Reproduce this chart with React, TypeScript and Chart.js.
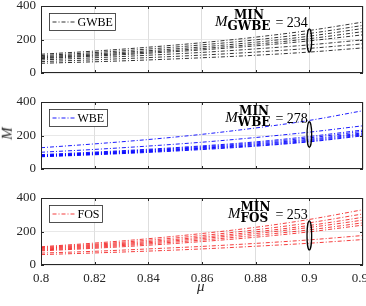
import React, { useEffect, useRef } from 'react';
import { Chart, registerables } from 'chart.js';

Chart.register(...registerables);

const MU = [0.8, 0.82, 0.84, 0.86, 0.88, 0.9, 0.92];

const GWBE_SERIES = [
  [112, 131, 154, 181, 214, 254, 304],
  [104, 122, 143, 168, 198, 236, 284],
  [97, 114, 133, 156, 184, 220, 266],
  [91, 107, 125, 146, 172, 205, 247],
  [86, 101, 118, 138, 162, 192, 228],
  [78, 91, 106, 123, 144, 168, 198],
  [68, 79, 92, 107, 125, 147, 174],
  [58, 67, 78, 91, 106, 125, 150],
];

const WBE_SERIES = [
  [127, 150, 176, 207, 245, 290, 348],
  [100, 117, 137, 160, 188, 220, 258],
  [86, 101, 118, 138, 162, 194, 233],
  [83, 97, 114, 133, 156, 186, 225],
  [80, 94, 110, 128, 150, 178, 216],
  [78, 91, 106, 124, 145, 172, 210],
  [75, 88, 103, 120, 140, 166, 204],
  [73, 85, 99, 116, 136, 162, 198],
];

const FOS_SERIES = [
  [109, 131, 157, 188, 225, 272, 330],
  [104, 124, 148, 176, 210, 252, 305],
  [99, 118, 140, 166, 198, 236, 285],
  [94, 112, 133, 158, 188, 224, 268],
  [89, 106, 126, 149, 177, 210, 252],
  [84, 100, 118, 140, 166, 198, 238],
  [71, 82, 96, 111, 129, 150, 176],
  [62, 72, 83, 96, 112, 130, 152],
];

const Y_TICKS = [0, 200, 400];
const X_MIN = 0.8;
const X_MAX = 0.92;
const X_STEP = 0.02;
const MARK_MU = 0.9;

const GWBE_MIN = 234;
const WBE_MIN = 278;
const FOS_MIN = 253;

const GWBE_RANGE = [125, 263];
const WBE_RANGE = [130, 282];
const FOS_RANGE = [90, 263];

type PanelProps = {
  series: number[][];
  color: string;
  label: string;
  minValue: number;
  range: number[];
  showX: boolean;
  top: number;
  height: number;
};

function Panel({ series, color, label, minValue, range, showX, top, height }: PanelProps) {
  const ref = useRef<HTMLCanvasElement | null>(null);
  useEffect(() => {
    if (!ref.current) return;
    const dash = [4, 2, 1, 2];
    const annot = {
      id: 'annot',
      afterDraw(chart: any) {
        const { ctx, chartArea: ca, scales } = chart;
        const xs = scales.x;
        const ys = scales.y;
        ctx.save();
        // box
        ctx.strokeStyle = '#262626';
        ctx.lineWidth = 1;
        ctx.setLineDash([]);
        ctx.strokeRect(Math.round(ca.left) + 0.5, Math.round(ca.top) + 0.5, Math.round(ca.width) - 1, Math.round(ca.height) - 1);
        // tick marks
        ctx.beginPath();
        for (let v = X_MIN + X_STEP; v < X_MAX - 1e-9; v += X_STEP) {
          const px = Math.round(xs.getPixelForValue(v)) + 0.5;
          ctx.moveTo(px, ca.bottom);
          ctx.lineTo(px, ca.bottom - 3);
          ctx.moveTo(px, ca.top);
          ctx.lineTo(px, ca.top + 3);
        }
        for (const t of Y_TICKS) {
          const py = Math.round(ys.getPixelForValue(t)) + 0.5;
          ctx.moveTo(ca.left, py);
          ctx.lineTo(ca.left + 3, py);
          ctx.moveTo(ca.right, py);
          ctx.lineTo(ca.right - 3, py);
        }
        ctx.stroke();
        // ellipse
        const ex = xs.getPixelForValue(MARK_MU);
        const y1 = ys.getPixelForValue(range[1]);
        const y0 = ys.getPixelForValue(range[0]);
        ctx.beginPath();
        ctx.lineWidth = 1.3;
        ctx.strokeStyle = '#000';
        ctx.ellipse(ex, (y0 + y1) / 2, 2.3, Math.abs(y0 - y1) / 2, 0, 0, Math.PI * 2);
        ctx.stroke();
        // annotation text
        const xr = ex - 1.5;
        const eq = '= ' + minValue;
        ctx.fillStyle = '#000';
        ctx.textBaseline = 'middle';
        ctx.textAlign = 'left';
        ctx.font = '14px "Liberation Serif"';
        const eqW = ctx.measureText(eq).width;
        ctx.font = 'bold 12px "DejaVu Serif"';
        const supW = ctx.measureText('MIN').width;
        const subW = ctx.measureText(label).width;
        const scW = Math.max(supW, subW);
        ctx.font = 'italic 15px "Liberation Serif"';
        const mW = ctx.measureText('M').width;
        const eqX = xr - eqW;
        const scX = eqX - 5 - scW;
        const mX = scX - mW;
        ctx.fillText('M', mX, ca.top + 16);
        ctx.font = 'bold 12px "DejaVu Serif"';
        ctx.fillText('MIN', scX + (scW - supW) / 2, ca.top + 9.5);
        ctx.fillText(label, scX, ca.top + 20.5);
        ctx.font = '14px "Liberation Serif"';
        ctx.fillText(eq, eqX, ca.top + 17);
        // legend
        ctx.font = '12px "Liberation Serif"';
        const tW = ctx.measureText(label).width;
        const bx = Math.round(ca.left) + 8.5;
        const by = Math.round(ca.top) + 7.5;
        const bw = Math.round(29 + tW + 2);
        const bh = 17;
        ctx.fillStyle = '#fff';
        ctx.fillRect(bx, by, bw, bh);
        ctx.strokeStyle = '#262626';
        ctx.lineWidth = 0.8;
        ctx.strokeRect(bx, by, bw, bh);
        ctx.beginPath();
        ctx.strokeStyle = color;
        ctx.lineWidth = 0.9;
        ctx.setLineDash(dash);
        ctx.moveTo(bx + 3, by + bh / 2);
        ctx.lineTo(bx + 26, by + bh / 2);
        ctx.stroke();
        ctx.setLineDash([]);
        ctx.fillStyle = '#000';
        ctx.fillText(label, bx + 28, by + bh / 2 + 0.5);
        ctx.restore();
      },
    };
    const chart = new Chart(ref.current, {
      type: 'line',
      data: {
        datasets: series.map((s) => ({
          data: s.map((v, i) => ({ x: MU[i], y: v })),
          borderColor: color,
          borderWidth: 0.9,
          borderDash: dash,
          pointRadius: 0,
          fill: false,
          cubicInterpolationMode: 'monotone' as const,
        })),
      },
      options: {
        animation: false,
        responsive: false,
        maintainAspectRatio: false,
        events: [],
        layout: { padding: { top: 6, right: 3, bottom: showX ? 19 : 7, left: 0 } },
        plugins: { legend: { display: false }, tooltip: { enabled: false } },
        scales: {
          x: {
            type: 'linear',
            min: X_MIN,
            max: X_MAX,
            border: { display: false },
            grid: { color: '#d6d6d6', lineWidth: 0.8, drawTicks: false },
            ticks: {
              display: showX,
              stepSize: X_STEP,
              padding: 6,
              color: '#262626',
              font: { family: 'Liberation Serif', size: 13 },
              maxRotation: 0,
              autoSkip: false,
              callback: (v: any) => String(Math.round(Number(v) * 100) / 100),
            },
            afterFit: (s: any) => {
              s.paddingLeft = 0;
              s.paddingRight = 0;
              s.height = showX ? 22 : 0;
            },
          },
          y: {
            min: 0,
            max: 400,
            border: { display: false },
            grid: { color: '#e2e2e2', lineWidth: 0.8, drawTicks: false },
            ticks: {
              stepSize: 200,
              padding: 5,
              color: '#262626',
              font: { family: 'Liberation Serif', size: 13 },
            },
            afterFit: (s: any) => {
              s.paddingTop = 0;
              s.paddingBottom = 0;
              s.width = 41;
            },
          },
        },
      },
      plugins: [annot],
    });
    return () => chart.destroy();
  }, []);
  return (
    <canvas
      ref={ref}
      width={366}
      height={height}
      style={{ position: 'absolute', left: 0, top, width: 366, height }}
    />
  );
}

export default function App() {
  return (
    <div
      style={{
        position: 'fixed',
        left: 0,
        top: 0,
        width: 366,
        height: 306,
        overflow: 'hidden',
        background: '#fff',
      }}
    >
      <Panel series={GWBE_SERIES} color="rgba(0,0,0,0.9)" label="GWBE" minValue={GWBE_MIN} range={GWBE_RANGE} showX={false} top={0} height={80} />
      <Panel series={WBE_SERIES} color="#0000ff" label="WBE" minValue={WBE_MIN} range={WBE_RANGE} showX={false} top={96} height={80} />
      <Panel series={FOS_SERIES} color="rgba(240,0,0,0.85)" label="FOS" minValue={FOS_MIN} range={FOS_RANGE} showX={true} top={192} height={114} />
      <span
        style={{
          position: 'absolute',
          left: 1,
          top: 126,
          fontFamily: 'Liberation Serif',
          fontStyle: 'italic',
          fontSize: 15,
          transform: 'rotate(-90deg)',
          lineHeight: '15px',
          color: '#262626',
        }}
      >
        M
      </span>
      <span
        style={{
          position: 'absolute',
          left: 197,
          top: 279,
          fontFamily: 'Liberation Serif',
          fontStyle: 'italic',
          fontSize: 15,
          lineHeight: '15px',
          color: '#262626',
        }}
      >
        μ
      </span>
    </div>
  );
}
